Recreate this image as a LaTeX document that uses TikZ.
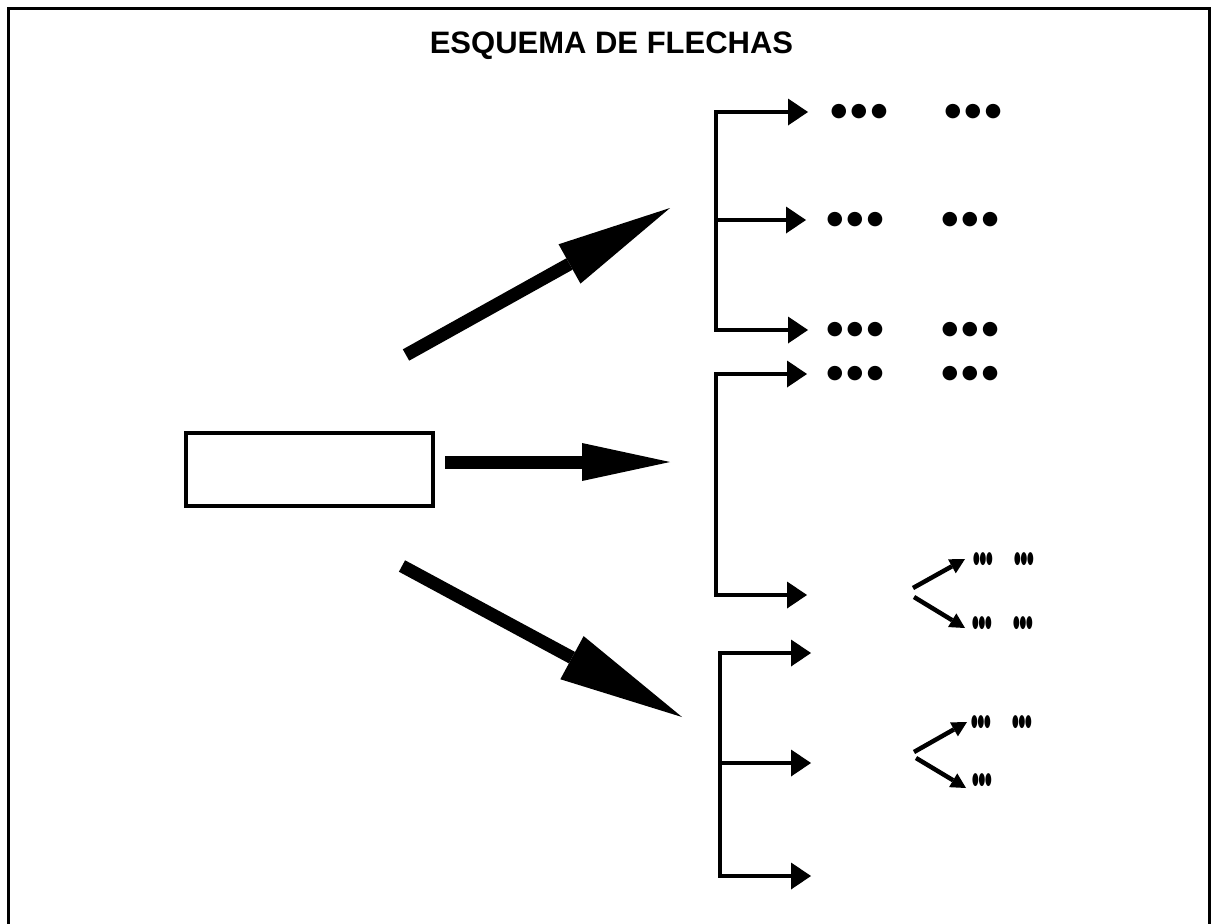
\documentclass[tikz,border=0pt]{standalone}
\usepackage{fontspec}
\setmainfont{Liberation Sans}
\newfontfamily\dotfont{DejaVu Sans}
\usetikzlibrary{arrows.meta}
\newcommand\dotrow{●\kern3.5pt●\kern3.5pt●}
\newcommand\smalldotrow{●\kern-0.5pt●\kern-0.5pt●}
\tikzset{
  brk/.style={line width=3.5pt, line cap=rect},
  brkarrow/.style={line width=3.5pt, -{Triangle[length=20pt,width=27pt,line width=0pt]}},
  forkarrow/.style={line width=4.5pt, -{Triangle[length=15pt,width=16pt,line width=0pt]}},
  bigarrow/.style={line width=13pt},
  bigdots/.style={font=\dotfont\fontsize{19}{19}\selectfont, inner sep=0pt},
  smalldots/.style={font=\dotfont\fontsize{17}{17}\selectfont, inner sep=0pt, xscale=0.45},
}
\begin{document}
\begin{tikzpicture}[x=1pt,y=-1pt]
\useasboundingbox (0,0) rectangle (1211,924);
% frame
\draw[line width=3pt] (8,926) -- (8,8) -- (1209.5,8) -- (1209.5,926);
% title
\node[anchor=base, inner sep=0pt, font=\bfseries\fontsize{31}{31}\selectfont] (title) at (611.5,53) {ESQUEMA DE FLECHAS};
% source box
\node[draw, line width=4pt, minimum width=247pt, minimum height=73pt, inner sep=0pt] (src) at (309.5,469.5) {};
% big arrows
\coordinate (u0) at (406,355); \coordinate (u1) at (670,208);
\coordinate (m0) at (445,462); \coordinate (m1) at (670,462);
\coordinate (d0) at (402,566); \coordinate (d1) at (682,717);
\draw[bigarrow, -{Triangle[length=115pt,width=45pt,line width=0pt]}] (u0) -- (u1);
\draw[bigarrow, -{Triangle[length=88pt,width=38pt,line width=0pt]}] (m0) -- (m1);
\draw[bigarrow, -{Triangle[length=125pt,width=49pt,line width=0pt]}] (d0) -- (d1);
% bracket 1
\coordinate (a1) at (716,112); \coordinate (a2) at (716,220); \coordinate (a3) at (716,330);
\coordinate (ta1) at (808,112); \coordinate (ta2) at (806,220); \coordinate (ta3) at (808,330);
\draw[brk] (a1) -- (a3);
\draw[brkarrow] (a1) -- (ta1);
\draw[brkarrow] (a2) -- (ta2);
\draw[brkarrow] (a3) -- (ta3);
% bracket 2
\coordinate (b1) at (716,374); \coordinate (b2) at (716,595);
\coordinate (tb1) at (807,374); \coordinate (tb2) at (807,595);
\draw[brk] (b1) -- (b2);
\draw[brkarrow] (b1) -- (tb1);
\draw[brkarrow] (b2) -- (tb2);
% bracket 3
\coordinate (c1) at (720,653); \coordinate (c2) at (720,763); \coordinate (c3) at (720,876);
\coordinate (tc1) at (811,653); \coordinate (tc2) at (811,763); \coordinate (tc3) at (811,876);
\draw[brk] (c1) -- (c3);
\draw[brkarrow] (c1) -- (tc1);
\draw[brkarrow] (c2) -- (tc2);
\draw[brkarrow] (c3) -- (tc3);
% big dots
\node[bigdots] (d11) at (859,112) {\dotrow};
\node[bigdots] (d12) at (973,112) {\dotrow};
\node[bigdots] (d21) at (855,220) {\dotrow};
\node[bigdots] (d22) at (970,220) {\dotrow};
\node[bigdots] (d31) at (855,330) {\dotrow};
\node[bigdots] (d32) at (970,330) {\dotrow};
\node[bigdots] (d41) at (855,374) {\dotrow};
\node[bigdots] (d42) at (970,374) {\dotrow};
% forks
\coordinate (f1a) at (913,588); \coordinate (f1b) at (914,597);
\coordinate (f2a) at (914,752); \coordinate (f2b) at (916,758);
\coordinate (g1) at (965,559); \coordinate (g2) at (965,628);
\coordinate (g3) at (967,722); \coordinate (g4) at (966,788);
\draw[forkarrow] (f1a) -- (g1);
\draw[forkarrow] (f1b) -- (g2);
\draw[forkarrow] (f2a) -- (g3);
\draw[forkarrow] (f2b) -- (g4);
% small dots
\node[smalldots] (s11) at (983,559) {\smalldotrow};
\node[smalldots] (s12) at (1024,559) {\smalldotrow};
\node[smalldots] (s21) at (982,623) {\smalldotrow};
\node[smalldots] (s22) at (1023,623) {\smalldotrow};
\node[smalldots] (s31) at (981,722) {\smalldotrow};
\node[smalldots] (s32) at (1022,722) {\smalldotrow};
\node[smalldots] (s41) at (982,780) {\smalldotrow};
\end{tikzpicture}
\end{document}
